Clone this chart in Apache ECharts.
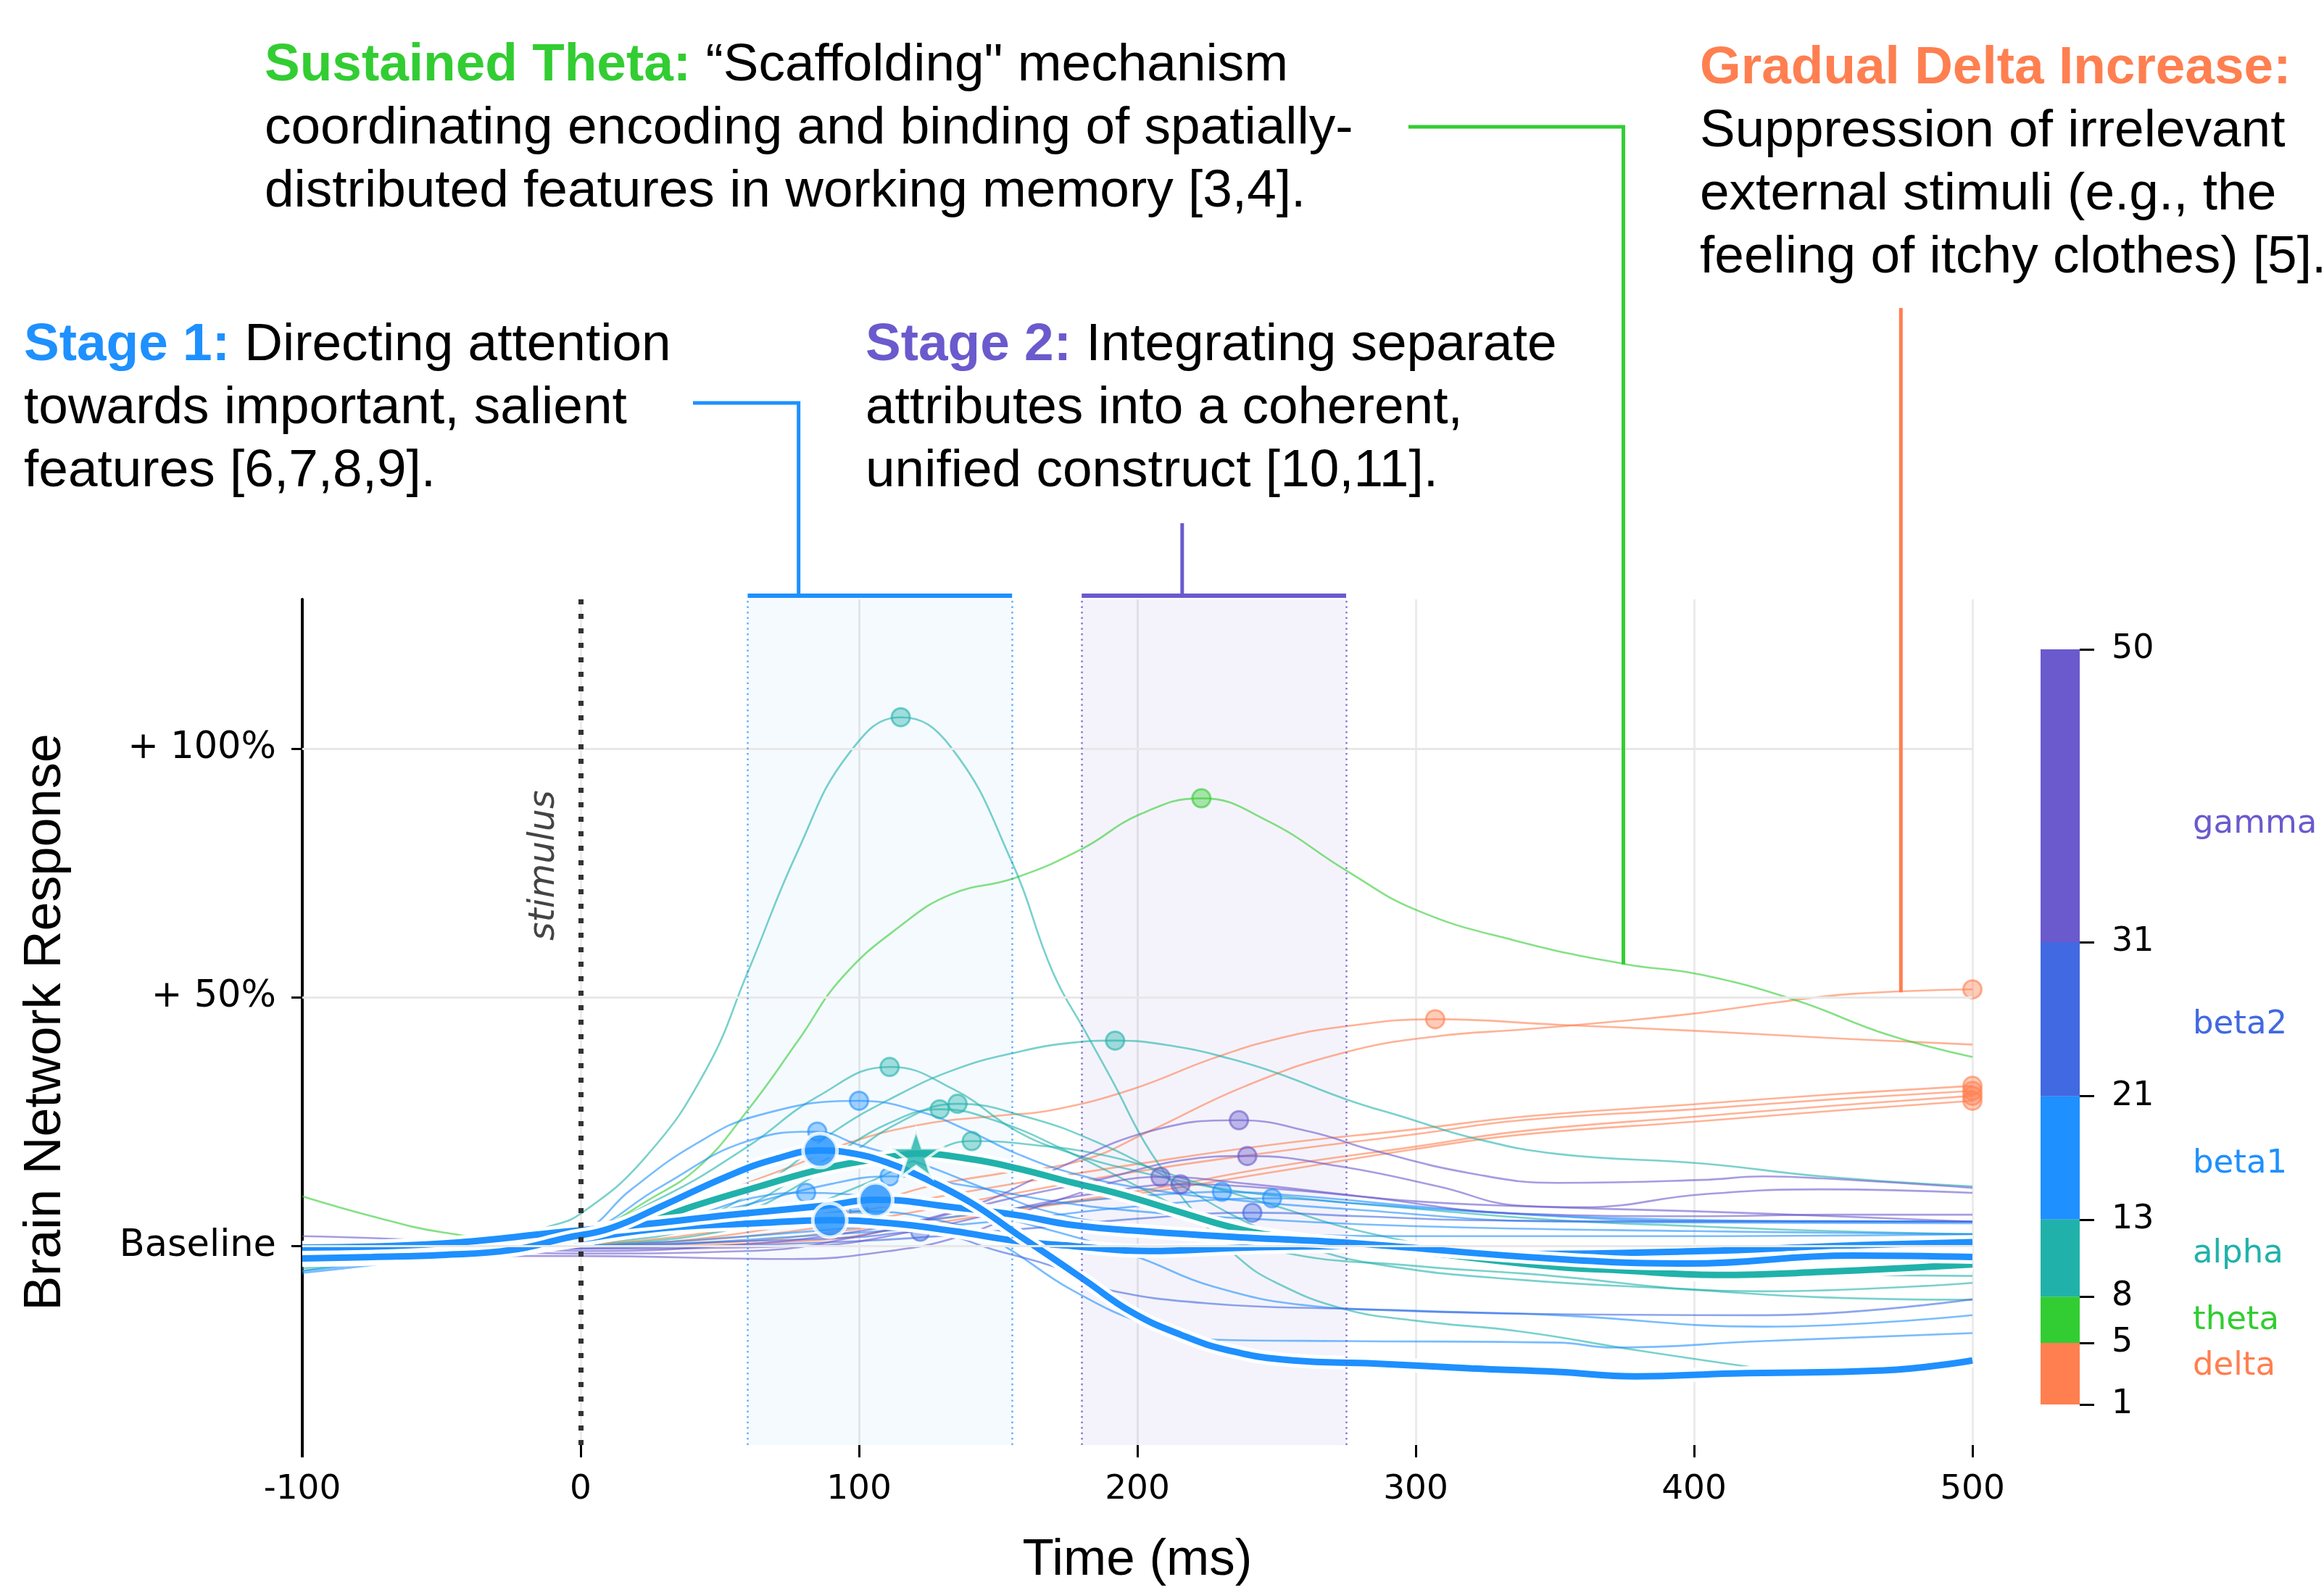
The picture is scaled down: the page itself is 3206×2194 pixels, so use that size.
<!DOCTYPE html>
<html><head><meta charset="utf-8">
<script src="https://cdn.jsdelivr.net/npm/echarts@6.0.0/dist/echarts.min.js"></script>
<style>html,body{margin:0;padding:0;background:#fff}#c{width:3206px;height:2194px}</style>
</head><body><div id="c"></div>
<script>
// ---------------- data ----------------
const bandNames = ['delta','theta','alpha','beta1','beta2','gamma'];
const bandColors = ['#FF7F50','#32CD32','#20B2AA','#1E90FF','#4169E1','#6A5ACD'];
const bandEdges = [1,5,8,13,21,31,50];
const yTickValues = [0,50,100];
const yTickLabels = ['Baseline','+ 50%','+ 100%'];
const stage1Window = [60,155];
const stage2Window = [180,275];
const stimulusTime = 0;

const deltaLines = [
  [[-100,0.5],[-50,0],[0,0.5],[50,3],[100,8],[125,12],[150,14.5],[180,17.2],[204,23],[239,32.2],[275,39],[308,42.2],[338,43.5],[371,45.1],[401,46.8],[430,49],[457,50.7],[500,51.6]],
  [[-100,0],[-50,0],[0,0.5],[30,6],[60,12.7],[78,16.5],[95,20.5],[122,24.4],[150,26.2],[169,27.3],[198,31.5],[227,37.7],[250,41.6],[275,44.2],[307,45.6],[351,44.5],[403,43.2],[446,41.9],[500,40.5]],
  [[-100,-1],[-50,-0.5],[0,0],[50,2],[100,7],[150,12],[200,16.5],[250,20.5],[300,23.5],[338,26],[400,28.5],[450,30.5],[500,32.2]],
  [[-100,0],[-50,0],[0,0.5],[50,1.5],[100,5],[150,10],[200,15],[250,19],[300,22.5],[338,25.3],[400,27.5],[450,29.5],[500,31.2]],
  [[-100,-0.5],[-50,-0.5],[0,0],[60,1],[100,3.5],[150,7],[200,11],[250,16],[300,20],[338,23.1],[400,26],[450,28.2],[500,30.2]],
  [[-100,0],[-50,0],[0,0],[80,1],[120,4],[160,7.5],[200,10.5],[250,15],[300,19.5],[338,22.4],[400,25],[450,27.2],[500,29.2]]
];
const thetaLines = [
  [[-100,10],[-75,6],[-50,2.8],[-25,1.5],[0,2.5],[10,4.5],[23,8.8],[42,15.7],[60,27.3],[78,41.2],[94,54],[115,64.4],[133,70.7],[156,74],[180,79.8],[201,86.8],[223,90],[247,85.4],[275,75.5],[300,67.6],[335,61.5],[375,56.7],[402,54.6],[436,49.5],[470,42.4],[500,38]]
];
const alphaLines = [
  [[-100,-4.5],[-60,-2],[-30,0.5],[-12,3.8],[0,6.5],[23.5,18],[45,35.4],[60,55],[78,79.4],[96.5,99.1],[115,106.3],[133,100.3],[155,77.1],[169.6,55.1],[182,42.4],[192,32.2],[201.6,21.8],[210,14.6],[219,7.8],[236,-2.2],[250,-7.4],[274,-12.6],[300,-15],[338,-17.2],[380,-21],[420,-24.3]],
  [[-100,-1],[-50,-0.5],[0,3],[30,10],[60,20],[85,30],[111,36],[134,31.5],[157,23],[177,18.5],[200,15],[225,12],[250,10.1],[300,7.5],[351,5.2],[400,4],[450,3],[500,2.4]],
  [[-100,-5],[-60,-2],[0,1],[40,5],[70,14],[91,23],[111,29.5],[134,35.4],[157,39],[177,40.9],[192,41.3],[215,40],[233,37.7],[250,34.8],[275,29.5],[297,25.7],[320,21.8],[351,18.5],[403,16.6],[446,14],[500,12]],
  [[-100,0],[-50,0],[0,1],[50,6],[90,18],[110,24.5],[129,27.5],[150,25],[175,19],[200,12],[225,5],[250,-1],[300,-4],[338,-5.5],[425,-9.1],[500,-7.4]],
  [[-100,-1],[-50,-0.5],[0,0.5],[50,5],[90,16],[115,25],[135.4,28.6],[160,26],[185,21],[210,14],[235,6],[260,0],[290,-4],[338,-6.8],[397,-8.7],[446,-10.3],[500,-10.8]],
  [[-100,-2],[-50,-1],[0,0],[60,4],[100,12],[125,18.5],[140.5,21.1],[160,20.5],[190,18],[220,13],[250,8],[280,3],[320,-1],[380,-4],[440,-5.5],[500,-6]]
];
const beta1Lines = [
  [[-100,-4],[-50,-2],[0,3],[18,11.3],[41,20.4],[64,26.3],[100,29.2],[122,27],[140,23],[157,18.5],[177,14.6],[204,11.4],[240,9],[274,7.5],[351,4.9],[420,4.7],[500,4.6]],
  [[-100,-5.4],[-50,-2],[0,2.5],[29,12],[60,21.1],[85,23],[99,20.5],[122,16.6],[146,11.4],[169,6.8],[200,4],[250,2.5],[300,2],[400,2],[500,2.4]],
  [[-100,-2],[-50,-1],[0,0.5],[40,6],[62,9.7],[81,10.7],[110,9.5],[140,7],[170,3],[200,-2.2],[227,-8.1],[262,-12],[300,-13],[351,-13.9],[425,-16.2],[500,-13.9]],
  [[-100,-1],[-50,-0.5],[0,1],[50,7],[90,12.5],[111,14],[140,12],[170,9],[200,7],[240,5.5],[300,4],[400,3],[500,2.4]],
  [[-100,-1],[-50,-0.5],[0,0],[60,2],[120,5],[170,8.5],[200,10],[230.4,10.9],[260,10],[300,8],[350,6],[400,5],[500,4.9]],
  [[-100,0],[-50,0],[0,0],[80,2],[150,5],[200,8],[248.4,9.6],[280,8.5],[320,7],[380,5.5],[440,5],[500,4.9]],
  [[-100,-5],[-50,-2],[0,1],[50,5.5],[100,7],[130,5],[149,1],[177,-9],[204,-15.9],[227,-18.8],[274,-19.1],[351,-19.4],[371,-20.4],[425,-19.1],[500,-17.5]]
];
const beta2Lines = [
  [[-100,-1],[-50,-1],[0,-0.5],[100,1],[160,3.5],[200,5.5],[241.3,6.7],[280,6],[320,5.2],[380,5],[440,5],[500,4.9]],
  [[-100,-0.5],[-50,-0.5],[0,0],[60,1],[100,1.8],[122,2.9],[150,-1],[177,-5.5],[186,-8.4],[227,-11.6],[275,-12.6],[338,-13.6],[425,-13.9],[500,-10.7]]
];
const gammaLines = [
  [[-100,2],[-50,1],[0,-1],[50,0],[100,3],[140,8],[170,15.3],[204,23],[236.5,25.3],[262,23],[285,19.2],[320,14.6],[351,12.7],[403,13.3],[425,14],[446,13.6],[500,11.7]],
  [[-100,-1],[-50,-1],[0,-1.5],[60,-1],[100,2],[150,9],[186,13.3],[215.5,17.2],[239.5,18.1],[274,15.9],[308,12],[338,8.1],[360,7.8],[403,10.4],[446,11.4],[500,10.7]],
  [[-100,-2],[-50,-2],[0,-2],[76,-2.6],[111,-1],[136,1.9],[170,9],[208.3,13.9],[240,12.5],[280,10],[338,6.5],[400,6],[450,6.3],[500,6.3]],
  [[-100,0],[-50,0],[0,-0.5],[80,0],[120,3],[160,8],[190,11],[215.5,12.4],[250,11.5],[300,9],[338,8],[400,7],[450,6],[500,4.9]]
];
// highlighted networks (thick)
const thickAlphaLine = [[-100,-2.8],[-50,-2],[-5.5,0.7],[17.8,3.6],[41,8.1],[64.3,12],[87.5,15.6],[110.8,17.9],[120.5,18.6],[140,17.5],[157,15.6],[177,12.7],[192,10.7],[215.5,6.8],[233,3.9],[250,2],[274,0.4],[308,-1.6],[351,-4.2],[371,-4.8],[408,-5.8],[446,-5.2],[500,-3.7]];
const thickBeta1Lines = [
  [[-100,-2.2],[-50,-1.2],[-5.5,1],[29.4,3.6],[64,4.6],[89.5,5.2],[111,4.6],[134,3],[157,1],[177,0],[204,-1],[239,-0.3],[274,0],[338,-1.6],[403,-1],[450,0],[500,0.8]],
  [[-100,-0.3],[-50,0.5],[-5.5,2.9],[25,4.5],[52.6,6.2],[87.5,8.1],[106,9.3],[134,7.8],[157,6.2],[177,4.2],[204,2.9],[239,1.7],[274,0.7],[351,-2.6],[398,-3.5],[457,-1.9],[500,-2.2]],
  [[-100,-2.5],[-75,-2.2],[-50,-1.8],[-25,-0.8],[-5.5,1.6],[10.8,3.6],[29.4,8.1],[52.6,14],[70,17.5],[86,19.2],[99,18.5],[111,16.6],[122,14],[140,8.8],[157,2.3],[169,-2.2],[181,-6.8],[198,-13.3],[215.5,-17.8],[233,-21],[256,-23],[285,-23.6],[320,-24.6],[351,-25.3],[379,-26.2],[414,-25.6],[468,-25],[500,-23]]
];

// ---------------- helpers ----------------
function rgba(hex, a){const n=parseInt(hex.slice(1),16);return 'rgba('+((n>>16)&255)+','+((n>>8)&255)+','+(n&255)+','+a+')';}
function peakOf(pts){let m=pts[0];pts.forEach(p=>{if(p[1]>m[1])m=p;});return m;}
const colorOf = name => bandColors[bandNames.indexOf(name)];
const FONT_T = 'DejaVu Sans';
const FONT_H = 'Liberation Sans';
const SMOOTH = 0.45;

const chart = echarts.init(document.getElementById('c'), null, {renderer:'canvas'});
const series = [];

// reference layers: gridlines, stage windows, stage edges
series.push({
  type:'line', data:[], z:1, silent:true,
  markArea:{silent:true, data:[
    [{xAxis:stage1Window[0], itemStyle:{color:'rgba(30,144,255,0.045)'}},{xAxis:stage1Window[1]}],
    [{xAxis:stage2Window[0], itemStyle:{color:'rgba(106,90,205,0.07)'}},{xAxis:stage2Window[1]}]
  ]},
  markLine:{silent:true, symbol:['none','none'], label:{show:false}, animation:false,
    data: yTickValues.map(v=>({yAxis:v, lineStyle:{color:'#e8e8e8', width:3, type:'solid'}}))
      .concat(stage1Window.map(v=>({xAxis:v, lineStyle:{color:'rgba(30,144,255,0.7)', width:2.5, type:[2.5,5]}})))
      .concat(stage2Window.map(v=>({xAxis:v, lineStyle:{color:'rgba(106,90,205,0.8)', width:2.5, type:[2.5,5]}})))
  }
});

const thinGroups = [['delta',deltaLines],['theta',thetaLines],['alpha',alphaLines],['beta1',beta1Lines],['beta2',beta2Lines],['gamma',gammaLines]];
thinGroups.forEach(([band, lines])=>{
  const c = colorOf(band);
  lines.forEach(pts=>{
    series.push({type:'line', data:pts, smooth:SMOOTH, symbol:'none', silent:true, z:2,
      lineStyle:{color:rgba(c,0.6), width:2.6}});
  });
  series.push({type:'scatter', data:lines.map(peakOf), symbolSize:25, silent:true, z:3,
    itemStyle:{color:rgba(c,0.5), borderColor:rgba(c,0.75), borderWidth:3}});
});

// stimulus line
series.push({type:'line', data:[], z:3, silent:true,
  markLine:{silent:true, symbol:['none','none'], label:{show:false}, animation:false,
    data:[{xAxis:stimulusTime}], lineStyle:{color:'#333', width:7, type:[7,13]}}});

// thick lines with white halo
const thickList = [[thickAlphaLine,'alpha']].concat(thickBeta1Lines.map(l=>[l,'beta1']));
thickList.forEach(([pts, band])=>{
  series.push({type:'line', data:pts, smooth:SMOOTH, symbol:'none', silent:true, z:4,
    lineStyle:{color:'#fff', width:19}});
  series.push({type:'line', data:pts, smooth:SMOOTH, symbol:'none', silent:true, z:4,
    lineStyle:{color:colorOf(band), width:9}});
});
series.push({type:'scatter', data:thickBeta1Lines.map(peakOf), symbolSize:47, silent:true, z:5,
  itemStyle:{color:'#1E90FF', borderColor:'#fff', borderWidth:5}});
series.push({type:'scatter', data:[peakOf(thickAlphaLine)], silent:true, z:5,
  symbol:'path://M50,0 L61.8,35.1 L98.9,35.1 L68.9,56.7 L80.2,91.9 L50,70.4 L19.8,91.9 L31.1,56.7 L1.1,35.1 L38.2,35.1 Z',
  symbolSize:[70,66], itemStyle:{color:'#20B2AA', borderColor:'#fff', borderWidth:4}});

// colorbar (second grid, stacked bars)
series.push({type:'bar', xAxisIndex:1, yAxisIndex:1, stack:'cb', data:[bandEdges[0]], barWidth:'100%', silent:true,
  itemStyle:{color:'rgba(0,0,0,0)'}});
const labelOffsets = {gamma:[0,39], beta2:[0,8], beta1:[0,9], alpha:[0,-6], theta:[0,1], delta:[0,-10]};
bandNames.forEach((b,i)=>{
  series.push({type:'bar', xAxisIndex:1, yAxisIndex:1, stack:'cb', name:b, data:[bandEdges[i+1]-bandEdges[i]], barWidth:'100%', silent:true,
    itemStyle:{color:bandColors[i]},
    label:{show:true, position:'right', distance:156, formatter:b, color:bandColors[i], fontFamily:FONT_T, fontSize:45, offset:labelOffsets[b]}});
});

const yLabelMap = {}; yTickValues.forEach((v,i)=>yLabelMap[v]=yTickLabels[i]);

const option = {
  animation:false,
  backgroundColor:'#fff',
  grid:[
    {left:417, right:485, top:827, bottom:198},
    {left:2815, width:54, top:896, height:1042}
  ],
  xAxis:[
    {type:'value', gridIndex:0, min:-100, max:500, interval:100,
     axisLine:{show:false, onZero:false},
     axisTick:{show:true, length:17, lineStyle:{color:'#000', width:3}},
     axisLabel:{fontFamily:FONT_T, fontSize:47, color:'#000', margin:38},
     splitLine:{show:true, lineStyle:{color:'#ebebeb', width:3}},
     name:'Time (ms)', nameLocation:'middle', nameGap:124,
     nameTextStyle:{fontFamily:FONT_H, fontSize:71, color:'#000'}},
    {type:'category', gridIndex:1, data:['band'], show:false}
  ],
  yAxis:[
    {type:'value', gridIndex:0, min:-40, max:130,
     axisLine:{show:true, onZero:false, lineStyle:{color:'#000', width:4}},
     axisTick:{show:true, length:15, customValues:yTickValues, lineStyle:{color:'#000', width:3}},
     axisLabel:{customValues:yTickValues, formatter:v=>yLabelMap[v], fontFamily:FONT_T, fontSize:51, color:'#000', margin:36},
     splitLine:{show:false},
     name:'Brain Network Response', nameLocation:'middle', nameGap:318,
     nameTextStyle:{fontFamily:FONT_H, fontSize:72, color:'#000'}},
    {type:'value', gridIndex:1, min:bandEdges[0], max:bandEdges[bandEdges.length-1], position:'right',
     axisLine:{show:false, onZero:false},
     axisTick:{show:true, length:20, customValues:bandEdges, lineStyle:{color:'#000', width:3}},
     axisLabel:{customValues:bandEdges, fontFamily:FONT_T, fontSize:46, color:'#000', margin:44},
     splitLine:{show:false}}
  ],
  series:series
};
chart.setOption(option);

// ---------------- annotations ----------------
const P = (x,y)=>chart.convertToPixel({gridIndex:0},[x,y]);
const bracketY = P(0,130)[1]-5;
const s1x = P(78.3,0)[0], s2x = P(216.1,0)[0], thx = P(374.6,0)[0], dlx = P(474.3,0)[0];
const axisX = P(-100,0)[0], axisBottom = P(0,-40)[1];
const FS = 73, LH = 87;
const fontMain = {fontFamily:FONT_H, fontSize:FS, lineHeight:LH, fill:'#000'};
function block(x,y,color,text){
  return {type:'text', x:x, y:y, z:10, silent:true,
    style:Object.assign({text:text, align:'left', verticalAlign:'top',
      rich:{ h:{fontFamily:FONT_H, fontSize:FS, lineHeight:LH, fontWeight:'bold', fill:color},
             n:{fontFamily:FONT_H, fontSize:FS, lineHeight:LH, fill:'#000'} }}, fontMain)};
}
const graphics = [
  {type:'line', z:10, silent:true, shape:{x1:axisX, y1:axisBottom-2, x2:axisX, y2:axisBottom+17}, style:{stroke:'#000', lineWidth:4}},
  {type:'line', z:10, silent:true, shape:{x1:P(stage1Window[0],0)[0], y1:bracketY, x2:P(stage1Window[1],0)[0], y2:bracketY}, style:{stroke:'#1E90FF', lineWidth:6}},
  {type:'polyline', z:10, silent:true, shape:{points:[[956,556],[s1x,556],[s1x,bracketY]]}, style:{stroke:'#1E90FF', lineWidth:5, fill:null}},
  {type:'line', z:10, silent:true, shape:{x1:P(stage2Window[0],0)[0], y1:bracketY, x2:P(stage2Window[1],0)[0], y2:bracketY}, style:{stroke:'#6A5ACD', lineWidth:6}},
  {type:'line', z:10, silent:true, shape:{x1:s2x, y1:bracketY, x2:s2x, y2:722}, style:{stroke:'#6A5ACD', lineWidth:5}},
  {type:'polyline', z:10, silent:true, shape:{points:[[1943,175],[thx,175],[thx,P(374.6,56.6)[1]]]}, style:{stroke:'#32CD32', lineWidth:5, fill:null}},
  {type:'line', z:10, silent:true, shape:{x1:dlx, y1:425, x2:dlx, y2:P(474.3,51)[1]}, style:{stroke:'#FF7F50', lineWidth:5}},
  block(365,47,'#32CD32','{h|Sustained Theta:}{n| “Scaffolding" mechanism}\n{n|coordinating encoding and binding of spatially-}\n{n|distributed features in working memory [3,4].}'),
  block(2345,51,'#FF7F50','{h|Gradual Delta Increase:}\n{n|Suppression of irrelevant}\n{n|external stimuli (e.g., the}\n{n|feeling of itchy clothes) [5].}'),
  block(33,433,'#1E90FF','{h|Stage 1:}{n| Directing attention}\n{n|towards important, salient}\n{n|features [6,7,8,9].}'),
  block(1194,433,'#6A5ACD','{h|Stage 2:}{n| Integrating separate}\n{n|attributes into a coherent,}\n{n|unified construct [10,11].}'),
  {type:'text', z:10, silent:true, x:P(stimulusTime,0)[0]-50, y:P(0,76.5)[1], rotation:Math.PI/2,
   style:{text:'stimulus', fontFamily:FONT_T, fontStyle:'italic', fontSize:49, fill:'#444', align:'center', verticalAlign:'middle'}}
];
chart.setOption({graphic:graphics});
</script></body></html>
